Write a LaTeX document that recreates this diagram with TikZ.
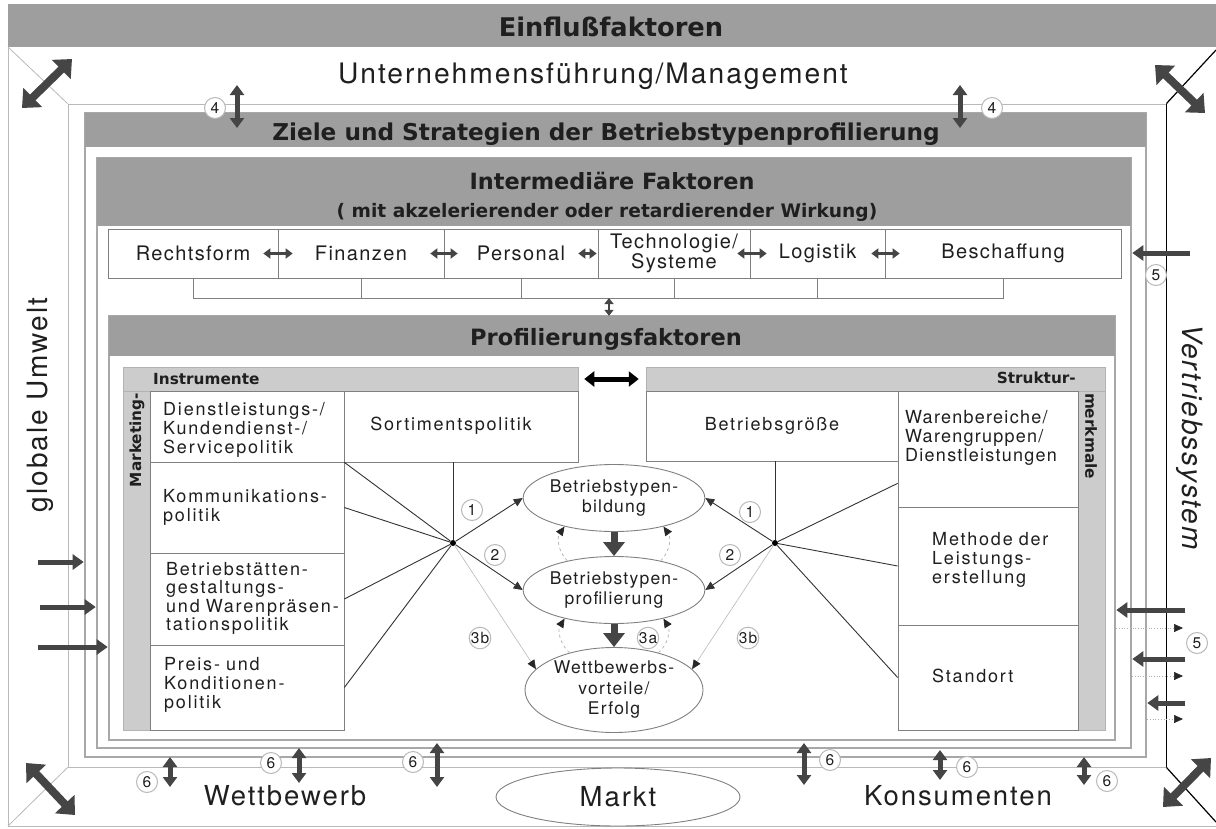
\documentclass[tikz,border=0pt]{standalone}
\usepackage{fontspec}
\setmainfont{TeX Gyre Heros}[LetterSpace=7]
\newfontfamily\headfont{DejaVu Sans Bold}
\usetikzlibrary{arrows.meta,shapes.geometric,calc}
\definecolor{bandc}{gray}{0.62}
\definecolor{lbandc}{gray}{0.80}
\definecolor{frmc}{gray}{0.66}
\definecolor{darkc}{gray}{0.27}
\definecolor{linec}{gray}{0.50}
\definecolor{txtc}{gray}{0.12}
\newcommand\fsz[2]{\fontsize{#1}{#2}\selectfont}
\begin{document}
\begin{tikzpicture}[x=1pt,y=-1pt,
  txt/.style={text=txtc, inner sep=0pt},
  bandbox/.style={fill=bandc, draw=none, inner sep=0pt},
  lband/.style={fill=lbandc, draw=gray!60, line width=0.5pt, inner sep=0pt},
  frame/.style={draw=frmc, line width=2.6pt, inner sep=0pt},
  cellbox/.style={draw=linec, line width=0.7pt, fill=white, inner sep=0pt, text=txtc},
  ell/.style={ellipse, draw=linec, line width=0.9pt, fill=white, inner sep=0pt, align=center, font=\fsz{17.5}{20.5}, text=txtc},
  circnum/.style={circle, draw=gray!55, line width=1pt, inner sep=0.3pt, minimum size=21pt, fill=white, font=\fsz{15.5}{15.5}, text=txtc},
  fat/.style={draw=darkc, line width=5pt, -{Triangle[length=11pt,width=15pt]}},
  fatdbl/.style={draw=darkc, line width=5pt, {Triangle[length=10pt,width=14pt]}-{Triangle[length=10pt,width=14pt]}},
  cornerdbl/.style={draw=darkc, line width=8pt, {Triangle[length=15pt,width=26pt]}-{Triangle[length=15pt,width=26pt]}},
  smalldbl/.style={draw=darkc, line width=2.6pt, {Triangle[length=7pt,width=10pt]}-{Triangle[length=7pt,width=10pt]}},
  conn/.style={draw=black!80, line width=0.9pt},
  conarr/.style={draw=black!80, line width=0.9pt, -{Triangle[length=9pt,width=8pt]}},
  faintarr/.style={draw=gray!55, line width=0.6pt, -{Triangle[length=9pt,width=8pt,color=black!85]}},
  dasharr/.style={draw=gray!60, line width=0.7pt, dashed, -{Triangle[length=9pt,width=8pt,color=black!85]}},
  dotarr/.style={draw=gray!60, line width=0.7pt, dotted, -{Triangle[length=9pt,width=8pt,color=black!85]}},
  fatdown/.style={draw=darkc, line width=7pt, -{Triangle[length=14pt,width=21pt]}},
  celltext/.style={txt, anchor=base west, align=left, text width=210pt, font=\fsz{18}{19}\addfontfeature{LetterSpace=10}},
  smalllab/.style={txt, font=\headfont\fsz{15.3}{16}}
]
\useasboundingbox (0,0) rectangle (1216,828);
\fill[white] (0,0) rectangle (1216,828);

% ---------- outer frame and Einflussfaktoren band
\node[bandbox, minimum width=1208pt, minimum height=43pt] (eb) at (612,25.5) {};
\node[txt, anchor=base, font=\headfont\fsz{25.7}{26}] (ebt) at (611,36) {Einflußfaktoren};
\coordinate (otl) at (8,47);
\coordinate (obl) at (8,826);
\coordinate (obr) at (1216,826);
\coordinate (otrd) at (1216,50);
\coordinate (obrd) at (1216,822);
\draw[gray!55, line width=0.8pt] (otl) -- (obl) -- (obr);

% ---------- management frame
\node[draw=gray!55, line width=0.9pt, minimum width=1098pt, minimum height=663pt, inner sep=0pt] (mf) at (617,435.5) {};
\draw[black, line width=1.5pt] (mf.north east) -- (mf.south east);
\draw[gray!55, line width=0.8pt] (otl) -- (mf.north west);
\draw[gray!55, line width=0.8pt] (obl) -- (mf.south west);
\draw[black, line width=1.2pt] (mf.north east) -- (otrd);
\draw[black, line width=1.2pt] (mf.south east) -- (obrd);
\node[txt, anchor=base, font=\fsz{28.2}{29}] (mgmt) at (593,83) {Unternehmensführung/Management};

% ---------- Ziele frame
\node[frame, minimum width=1061pt, minimum height=644pt] (zf) at (615.5,435) {};
\node[bandbox, minimum width=1061pt, minimum height=34pt] (zb) at (615.5,130) {};
\node[txt, anchor=base, font=\headfont\fsz{23.2}{24}] (zbt) at (606,140) {Ziele und Strategien der Betriebstypenprofilierung};

% ---------- Intermediaere frame
\node[frame, minimum width=1034pt, minimum height=590pt] (if) at (614,453) {};
\node[bandbox, minimum width=1034pt, minimum height=68pt] (ib) at (614,192) {};
\node[txt, anchor=base, font=\headfont\fsz{22.4}{23}] (ibt1) at (612,189) {Intermediäre Faktoren};
\node[txt, anchor=base, font=\headfont\fsz{18.6}{19}] (ibt2) at (607,217) {( mit akzelerierender oder retardierender Wirkung)};

% factor row
\node[cellbox, minimum width=170pt, minimum height=49pt, font=\fsz{20}{21}] (f1) at (193,253.5) {Rechtsform};
\node[cellbox, minimum width=166pt, minimum height=49pt, font=\fsz{20}{21}] (f2) at (361,253.5) {Finanzen};
\node[cellbox, minimum width=154pt, minimum height=49pt, font=\fsz{20}{21}] (f3) at (521,253.5) {Personal};
\node[cellbox, minimum width=152pt, minimum height=49pt, font=\fsz{20}{20}, align=center] (f4) at (674,253.5) {Technologie/\\Systeme};
\node[cellbox, minimum width=135pt, minimum height=49pt, font=\fsz{20}{21}] (f5) at (817.5,253.5) {Logistik};
\node[cellbox, minimum width=236pt, minimum height=49pt, font=\fsz{20}{21}] (f6) at (1003,253.5) {Beschaffung};
\draw[smalldbl] ([xshift=-15pt]f1.east) -- ([xshift=15pt]f2.west);
\draw[smalldbl] ([xshift=-14pt]f2.east) -- ([xshift=14pt]f3.west);
\draw[smalldbl] ([xshift=-20pt]f3.east) -- ([xshift=-1pt]f4.west);
\draw[smalldbl] ([xshift=-13pt]f4.east) -- ([xshift=17pt]f5.west);
\draw[smalldbl] ([xshift=-14pt]f5.east) -- ([xshift=15pt]f6.west);
\coordinate (bry) at (0,298);
\draw[linec, line width=0.7pt] (f1.south) -- (f1.south |- bry) -- (f6.south |- bry) -- (f6.south);
\foreach \f in {f2,f3,f4,f5} \draw[linec, line width=0.7pt] (\f.south) -- (\f.south |- bry);

% ---------- Profilierung frame
\node[frame, minimum width=1006pt, minimum height=424pt] (pf) at (612,528) {};
\node[bandbox, minimum width=1006pt, minimum height=40pt] (pb) at (612,336) {};
\node[txt, anchor=base, font=\headfont\fsz{22.5}{23}] (pbt) at (606,345) {Profilierungsfaktoren};
\coordinate (brm) at (609,298);
\draw[draw=darkc, line width=2pt, {Triangle[length=6pt,width=9pt]}-{Triangle[length=6pt,width=9pt]}] (brm) -- (brm |- pb.north);

% ---------- Instrumente box
\node[lband, minimum width=455pt, minimum height=24pt] (instH) at (350.5,379) {};
\node[lband, minimum width=27pt, minimum height=339pt] (instS) at (136.5,560.5) {};
\node[smalllab, anchor=base west] (instT) at (153,384) {Instrumente};
\node[smalllab, rotate=90] (mktT) at (137,440) {Marketing-};
\node[cellbox, minimum width=194pt, minimum height=71pt] (c1) at (247,426.5) {};
\node[cellbox, minimum width=234pt, minimum height=71pt] (sort) at (461,426.5) {};
\node[cellbox, minimum width=194pt, minimum height=91pt] (c2) at (247,507.5) {};
\node[cellbox, minimum width=194pt, minimum height=92pt] (c3) at (247,599) {};
\node[cellbox, minimum width=194pt, minimum height=85pt] (c4) at (247,687.5) {};
\node[celltext] (c1t) at (163,415) {Dienstleistungs-/\\Kundendienst-/\\Servicepolitik};
\node[celltext] (c2t) at (163,502) {Kommunikations-\\politik};
\node[celltext, font=\fsz{18}{18.5}\addfontfeature{LetterSpace=10}] (c3t) at (166,575) {Betriebstätten-\\gestaltungs-\\und Warenpräsen-\\tationspolitik};
\node[celltext] (c4t) at (164,670) {Preis- und\\Konditionen-\\politik};
\node[txt, anchor=base, font=\fsz{18}{19}\addfontfeature{LetterSpace=10}] (sortt) at (451,430) {Sortimentspolitik};

% ---------- Strukturmerkmale box
\node[lband, minimum width=459pt, minimum height=24pt] (strH) at (875.5,379) {};
\node[lband, minimum width=27pt, minimum height=339pt] (strS) at (1091.5,560.5) {};
\node[smalllab, anchor=base east] (strT) at (1076,383) {Struktur-};
\node[smalllab, rotate=-90] (mrkT) at (1091,436) {merkmale};
\node[cellbox, minimum width=252pt, minimum height=70pt] (groesse) at (772,426) {};
\node[cellbox, minimum width=180pt, minimum height=116pt] (w1) at (988,449) {};
\node[cellbox, minimum width=180pt, minimum height=118pt] (w2) at (988,566) {};
\node[cellbox, minimum width=180pt, minimum height=105pt] (w3) at (988,677.5) {};
\node[txt, anchor=base, font=\fsz{18}{19}\addfontfeature{LetterSpace=10}] (groesset) at (772,430) {Betriebsgröße};
\node[celltext, font=\fsz{18}{19}\addfontfeature{LetterSpace=7}] (w1t) at (905,423) {Warenbereiche/\\Warengruppen/\\Dienstleistungen};
\node[celltext] (w2t) at (932,545) {Methode der\\Leistungs-\\erstellung};
\node[celltext] (w3t) at (932,682) {Standort};

\draw[black, line width=5pt, {Triangle[length=10pt,width=15pt]}-{Triangle[length=10pt,width=15pt]}] ([xshift=6pt]instH.east) -- ([xshift=-7pt]strH.west);

% ---------- hubs and ellipses
\node[circle, fill=black, inner sep=0pt, minimum size=6pt] (hubL) at (453,543) {};
\node[circle, fill=black, inner sep=0pt, minimum size=6pt] (hubR) at (775,543) {};
\node[ell, minimum width=178pt, minimum height=67pt] (e1) at (614,498) {Betriebstypen-\\bildung};
\node[ell, minimum width=178pt, minimum height=67pt] (e2) at (614,590) {Betriebstypen-\\profilierung};
\node[ell, minimum width=178pt, minimum height=85pt] (e3) at (614,690) {Wettbewerbs-\\vorteile/\\Erfolg};

\draw[conn] (hubL) -- (c1.south east);
\draw[conn] (hubL) -- (c2.east);
\draw[conn] (hubL) -- (c3.east);
\draw[conn] (hubL) -- (c4.east);
\draw[conn] (hubL) -- (hubL |- sort.south);
\coordinate (w1a) at ($(w1.south west)+(0,-24)$);
\draw[conn] (hubR) -- (w1a);
\draw[conn] (hubR) -- (w2.west);
\draw[conn] (hubR) -- (w3.west);
\draw[conn] (hubR) -- (hubR |- groesse.south);

\draw[conarr] (hubL) -- (e1.west);
\draw[conarr] (hubL) -- (e2.west);
\draw[faintarr] (hubL) -- (e3.165);
\draw[conarr] (hubR) -- (e1.east);
\draw[conarr] (hubR) -- (e2.east);
\draw[faintarr] (hubR) -- (e3.15);

\draw[fatdown] (e1.south) -- (e2.north);
\draw[fatdown] (e2.south) -- (e3.north);
\draw[dasharr] (e2.148) to[bend left=40] (e1.210);
\draw[dasharr] (e2.32) to[bend right=40] (e1.330);
\draw[dasharr] (e3.140) to[bend left=40] (e2.210);
\draw[dasharr] (e3.40) to[bend right=40] (e2.330);

\node[circnum] (l1) at (472,510) {1};
\node[circnum] (l2) at (495,555) {2};
\node[circnum, inner sep=0pt] (l3b) at (480,638) {3b};
\node[circnum] (r1) at (750,512) {1};
\node[circnum] (r2) at (730,555) {2};
\node[circnum, inner sep=0pt] (r3b) at (748,638) {3b};
\node[circnum, inner sep=0pt] (l3a) at (648,638) {3a};

% ---------- side arrows
\coordinate (la1) at (38,562);
\coordinate (la2) at (40,607);
\coordinate (la3) at (38,647);
\draw[fat] (la1) -- (la1 -| zf.west);
\draw[fat] (la2) -- (la2 -| if.west);
\draw[fat] (la3) -- (la3 -| pf.west);
\coordinate (ra0) at (1190,253);
\draw[fat] (ra0) -- (ra0 -| if.east);
\coordinate (ra1) at (1185,610);
\coordinate (ra2) at (1185,659);
\coordinate (ra3) at (1185,703);
\draw[fat] (ra1) -- (ra1 -| pf.east);
\draw[fat] (ra2) -- (ra2 -| if.east);
\draw[fat] (ra3) -- (ra3 -| zf.east);
\coordinate (rd1) at (1183,628);
\coordinate (rd2) at (1183,676);
\coordinate (rd3) at (1183,719);
\draw[dotarr] (rd1 -| pf.east) -- (rd1);
\draw[dotarr] (rd2 -| if.east) -- (rd2);
\draw[dotarr] (rd3 -| zf.east) -- (rd3);
\node[circnum] (n5a) at (1156,275) {5};
\node[circnum] (n5b) at (1197,643) {5};

% ---------- 4 arrows
\coordinate (q1a) at (237,85);
\coordinate (q1b) at (237,128);
\coordinate (q2a) at (960,85);
\coordinate (q2b) at (960,128);
\draw[fatdbl] (q1a) -- (q1b);
\draw[fatdbl] (q2a) -- (q2b);
\node[circnum] (n4a) at (215,108) {4};
\node[circnum] (n4b) at (992,108) {4};

% ---------- 6 arrows
\foreach \x/\ya/\yb/\cx/\cy [count=\i] in {170/757/787/147/782, 299/748/783/271/763, 437/743/787/413/762, 804/743/785/830/760, 940/750/780/967/767, 1084/757/785/1107/781}{
  \coordinate (s\i a) at (\x,\ya);
  \coordinate (s\i b) at (\x,\yb);
  \draw[fatdbl] (s\i a) -- (s\i b);
  \node[circnum] (n6\i) at (\cx,\cy) {6};
}

% ---------- corner arrows
\coordinate (k1a) at (22,108); \coordinate (k1b) at (72,59);
\coordinate (k2a) at (1155,65); \coordinate (k2b) at (1205,113);
\coordinate (k3a) at (26,763); \coordinate (k3b) at (75,815);
\coordinate (k4a) at (1163,807); \coordinate (k4b) at (1211,758);
\draw[cornerdbl] (k1a) -- (k1b);
\draw[cornerdbl] (k2a) -- (k2b);
\draw[cornerdbl] (k3a) -- (k3b);
\draw[cornerdbl] (k4a) -- (k4b);

% ---------- environment labels
\node[txt, rotate=90, anchor=base, font=\fsz{28}{29}] (glob) at (47,405) {globale Umwelt};
\node[txt, rotate=-90, anchor=base, font=\itshape\fsz{28}{29}] (vert) at (1182,437) {Vertriebssystem};
\node[txt, anchor=base, font=\fsz{27.5}{28}] (wett) at (285,805) {Wettbewerb};
\node[txt, anchor=base, font=\fsz{27.5}{28}] (kons) at (958,805) {Konsumenten};
\node[ellipse, draw=linec, line width=0.9pt, minimum width=244pt, minimum height=58pt, inner sep=0pt, text=txtc, font=\fsz{27.5}{28}] (markt) at (618,797) {Markt};
\end{tikzpicture}
\end{document}
